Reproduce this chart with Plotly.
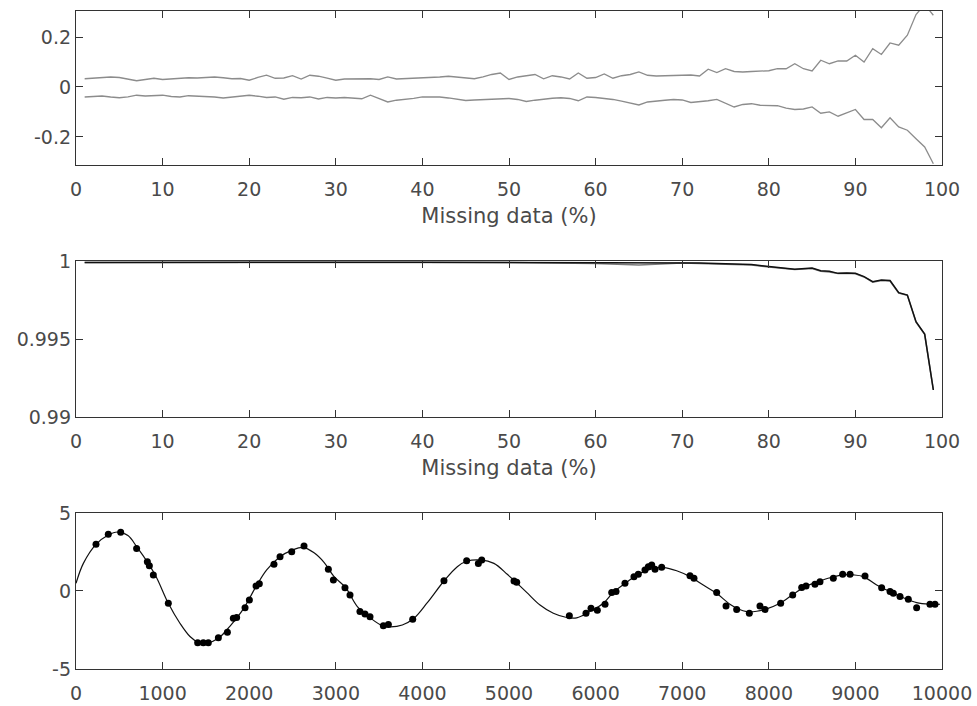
import plotly.graph_objects as go

# ---------------- data ----------------
miss_pct = list(range(1, 100))
upper_band = [0.033, 0.036, 0.040, 0.040, 0.038, 0.032, 0.025, 0.030, 0.035, 0.030,
              0.032, 0.036, 0.037, 0.036, 0.038, 0.040, 0.037, 0.033, 0.034, 0.027,
              0.038, 0.047, 0.035, 0.036, 0.045, 0.032, 0.047, 0.043, 0.035, 0.027,
              0.032, 0.032, 0.034, 0.033, 0.030, 0.040, 0.032, 0.033, 0.036, 0.035,
              0.038, 0.040, 0.043, 0.040, 0.038, 0.033, 0.040, 0.050, 0.056, 0.030,
              0.040, 0.045, 0.050, 0.033, 0.045, 0.040, 0.032, 0.056, 0.035, 0.038,
              0.052, 0.035, 0.045, 0.050, 0.060, 0.047, 0.044, 0.045, 0.047, 0.048,
              0.048, 0.044, 0.071, 0.058, 0.073, 0.062, 0.060, 0.062, 0.063, 0.065,
              0.073, 0.073, 0.093, 0.073, 0.064, 0.107, 0.093, 0.104, 0.104, 0.127,
              0.100, 0.153, 0.130, 0.176, 0.167, 0.207, 0.290, 0.330, 0.287]
lower_band = [-0.040, -0.038, -0.036, -0.040, -0.043, -0.040, -0.033, -0.036, -0.034, -0.033,
              -0.038, -0.040, -0.035, -0.036, -0.038, -0.040, -0.044, -0.040, -0.038, -0.033,
              -0.037, -0.042, -0.040, -0.049, -0.042, -0.043, -0.040, -0.048, -0.042, -0.044,
              -0.042, -0.044, -0.047, -0.033, -0.045, -0.060, -0.053, -0.050, -0.046, -0.040,
              -0.040, -0.040, -0.044, -0.050, -0.054, -0.052, -0.050, -0.049, -0.047, -0.046,
              -0.050, -0.058, -0.053, -0.048, -0.045, -0.043, -0.046, -0.055, -0.040, -0.042,
              -0.045, -0.050, -0.057, -0.065, -0.072, -0.060, -0.058, -0.053, -0.050, -0.052,
              -0.062, -0.060, -0.055, -0.050, -0.065, -0.080, -0.070, -0.067, -0.073, -0.073,
              -0.075, -0.085, -0.090, -0.088, -0.080, -0.105, -0.100, -0.117, -0.103, -0.090,
              -0.130, -0.130, -0.163, -0.123, -0.160, -0.173, -0.207, -0.240, -0.307]

mid_x = [1, 10, 20, 30, 40, 50, 60, 65, 70, 72, 75, 78, 80, 82, 83, 85, 86, 87, 88, 89,
         90, 91, 92, 93, 94, 95, 96, 97, 98, 99]
corr_black = [0.99991, 0.99992, 0.99993, 0.99993, 0.99992, 0.99991, 0.99991, 0.99990, 0.99992, 0.99988,
              0.99982, 0.99978, 0.99965, 0.99955, 0.99947, 0.99955, 0.99938, 0.99935, 0.99921, 0.99924,
              0.99921, 0.99900, 0.99868, 0.99878, 0.99875, 0.99797, 0.99782, 0.99611, 0.99532, 0.99173]
corr_gray = [0.99990, 0.99991, 0.99992, 0.99992, 0.99991, 0.99990, 0.99985, 0.99974, 0.99988, 0.99985,
             0.99980, 0.99975, 0.99962, 0.99950, 0.99945, 0.99952, 0.99935, 0.99930, 0.99920, 0.99922,
             0.99918, 0.99898, 0.99865, 0.99875, 0.99872, 0.99795, 0.99780, 0.99608, 0.99530, 0.99175]

curve_x = [0, 85, 231, 373, 480, 600, 700, 835, 931, 1066, 1200, 1316, 1412, 1508, 1644, 1779,
           1933, 2067, 2202, 2356, 2491, 2620, 2749, 2864, 2980, 3114, 3249, 3403, 3537, 3633,
           3768, 3903, 4057, 4249, 4403, 4519, 4672, 4826, 4980, 5095, 5204, 5358, 5512, 5666,
           5781, 5935, 6089, 6204, 6358, 6512, 6666, 6782, 6936, 7090, 7243, 7397, 7551, 7648,
           7745, 7860, 7975, 8129, 8283, 8418, 8553, 8707, 8861, 8976, 9092, 9246, 9400, 9554,
           9707, 9861, 9977]
curve_y = [0.49, 1.77, 2.99, 3.59, 3.78, 3.55, 2.85, 1.77, 0.85, -0.79, -2.07, -2.92, -3.29, -3.35, -3.03, -2.25,
           -1.15, 0.17, 1.35, 2.20, 2.60, 2.80, 2.45, 1.84, 0.92, 0.21, -1.00, -1.75, -2.22, -2.30,
           -2.18, -1.75, -0.75, 0.64, 1.56, 1.92, 1.99, 1.77, 1.07, 0.49, -0.09, -0.90, -1.43, -1.70,
           -1.72, -1.32, -0.79, -0.09, 0.56, 1.13, 1.45, 1.50, 1.30, 0.92, 0.38, -0.15, -0.85, -1.15,
           -1.32, -1.30, -1.15, -0.79, -0.21, 0.28, 0.56, 0.85, 1.03, 1.03, 0.92, 0.38, -0.04, -0.43,
           -0.75, -0.85, -0.85]

dots_x = [231, 373, 516, 700, 824, 847, 893, 1066, 1405, 1470, 1528, 1644, 1748, 1817, 1855, 1952,
          2002, 2079, 2117, 2286, 2356, 2491, 2633, 2914, 2972, 3106, 3164, 3279, 3337, 3395, 3549,
          3607, 3888, 4249, 4511, 4646, 4685, 5058, 5089, 5697, 5889, 5947, 6020, 6109, 6186, 6236,
          6339, 6443, 6493, 6570, 6609, 6648, 6686, 6763, 7090, 7136, 7398, 7506, 7629, 7775, 7898,
          7956, 8137, 8276, 8380, 8430, 8533, 8591, 8745, 8853, 8938, 9111, 9303, 9400, 9438, 9515,
          9611, 9707, 9861, 9919]
dots_y = [2.99, 3.63, 3.76, 2.73, 1.88, 1.62, 1.03, -0.79, -3.31, -3.31, -3.31, -2.99, -2.65, -1.75, -1.70, -1.07,
          -0.58, 0.32, 0.47, 1.71, 2.20, 2.52, 2.88, 1.39, 0.71, 0.21, -0.26, -1.32, -1.47, -1.65, -2.22,
          -2.14, -1.81, 0.66, 1.94, 1.77, 1.99, 0.64, 0.56, -1.58, -1.43, -1.11, -1.24, -0.85, -0.09, -0.04,
          0.49, 0.92, 1.07, 1.35, 1.56, 1.67, 1.39, 1.52, 0.98, 0.81, -0.09, -0.96, -1.18, -1.43, -0.96,
          -1.18, -0.79, -0.26, 0.23, 0.32, 0.43, 0.60, 0.81, 1.07, 1.07, 0.96, 0.21, -0.04, -0.15, -0.36,
          -0.53, -1.07, -0.85, -0.85]

pct_ticks = [0, 10, 20, 30, 40, 50, 60, 70, 80, 90, 100]
top_yticks = [-0.2, 0, 0.2]
top_ytext = ["-0.2", "0", "0.2"]
mid_yticks = [0.99, 0.995, 1]
mid_ytext = ["0.99", "0.995", "1"]
bot_xticks = [0, 1000, 2000, 3000, 4000, 5000, 6000, 7000, 8000, 9000, 10000]
bot_xtext = ["0", "1000", "2000", "3000", "4000", "5000", "6000", "7000", "8000", "9000", "10000"]
bot_yticks = [-5, 0, 5]
bot_ytext = ["-5", "0", "5"]
xlabel = "Missing data (%)"

# ---------------- figure ----------------
GRAY = "#8c8c8c"
fig = go.Figure()
fig.add_trace(go.Scatter(x=miss_pct, y=upper_band, mode="lines",
                         line=dict(color=GRAY, width=1.3), xaxis="x", yaxis="y"))
fig.add_trace(go.Scatter(x=miss_pct, y=lower_band, mode="lines",
                         line=dict(color=GRAY, width=1.3), xaxis="x", yaxis="y"))
fig.add_trace(go.Scatter(x=mid_x, y=corr_gray, mode="lines",
                         line=dict(color="#7a7a7a", width=1.5), xaxis="x2", yaxis="y2"))
fig.add_trace(go.Scatter(x=mid_x, y=corr_black, mode="lines",
                         line=dict(color="#111111", width=1.5), xaxis="x2", yaxis="y2"))
fig.add_trace(go.Scatter(x=curve_x, y=curve_y, mode="lines", line_shape="spline",
                         line=dict(color="#111111", width=1.2), xaxis="x3", yaxis="y3"))
fig.add_trace(go.Scatter(x=dots_x, y=dots_y, mode="markers",
                         marker=dict(color="#000000", size=7), xaxis="x3", yaxis="y3"))

FONT = dict(family="DejaVu Sans", size=19, color="#4a4a4a")
TITLE_FONT = dict(family="DejaVu Sans", size=21, color="#4a4a4a")
axis_common = dict(showline=True, linecolor="#333333", linewidth=1.3, mirror="ticks",
                   ticks="inside", ticklen=7, tickwidth=1.2, tickcolor="#333333",
                   showgrid=False, zeroline=False, tickfont=FONT, automargin=False)
xaxis_extra = dict(ticklabelstandoff=7)

fig.update_layout(
    width=977, height=706,
    margin=dict(l=76, r=35, t=11, b=37, autoexpand=False),
    paper_bgcolor="white", plot_bgcolor="white",
    showlegend=False,
    font=FONT,
    xaxis=dict(domain=[0, 1], range=[0, 100], tickvals=pct_ticks, anchor="y",
               title=dict(text=xlabel, font=TITLE_FONT, standoff=9), **xaxis_extra, **axis_common),
    yaxis=dict(domain=[0.766, 1], range=[-0.312, 0.304], tickvals=top_yticks,
               ticktext=top_ytext, anchor="x", **axis_common),
    xaxis2=dict(domain=[0, 1], range=[0, 100], tickvals=pct_ticks, anchor="y2",
                title=dict(text=xlabel, font=TITLE_FONT, standoff=9), **xaxis_extra, **axis_common),
    yaxis2=dict(domain=[0.383, 0.620], range=[0.99, 1.0], tickvals=mid_yticks,
                ticktext=mid_ytext, anchor="x2", **axis_common),
    xaxis3=dict(domain=[0, 1], range=[0, 10000], tickvals=bot_xticks, ticktext=bot_xtext,
                anchor="y3", **xaxis_extra, **axis_common),
    yaxis3=dict(domain=[0, 0.2371], range=[-5, 5], tickvals=bot_yticks,
                ticktext=bot_ytext, anchor="x3", **axis_common),
)

fig.write_html("out.html")
